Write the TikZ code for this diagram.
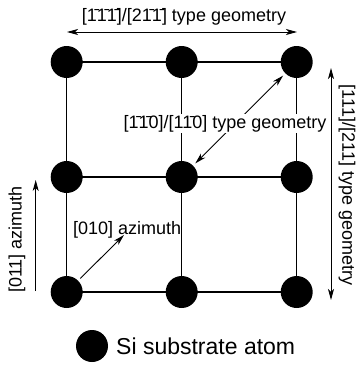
\documentclass[tikz,border=0pt]{standalone}
\usepackage{fontspec}
\setmainfont{Liberation Sans}
\usetikzlibrary{arrows.meta}
\newcommand\bartxt[1]{\={#1}}
\begin{document}
\begin{tikzpicture}[x=1pt,y=-1pt,
  atom/.style={circle,fill=black,minimum size=32pt,inner sep=0pt},
  gridline/.style={line width=1.5pt},
  arr/.style={line width=0.9pt,-{Stealth[length=11pt,width=6pt,inset=3pt]}},
  darr/.style={line width=0.9pt,{Stealth[length=11pt,width=6pt,inset=3pt]}-{Stealth[length=11pt,width=6pt,inset=3pt]}},
  lbl/.style={font=\fontsize{18}{21}\selectfont,inner sep=1pt}]
\useasboundingbox (0,0) rectangle (357,367);
% atoms
\foreach \r/\y in {1/62,2/177,3/292}{
  \foreach \c/\x in {1/66.7,2/181.7,3/296.7}{
    \node[atom] (a\r\c) at (\x,\y) {};
  }
}
% grid lines
\foreach \r in {1,2,3}{
  \draw[gridline] (a\r1.center) -- (a\r2.center) -- (a\r3.center);
  \draw[gridline] (a1\r.center) -- (a2\r.center) -- (a3\r.center);
}
% top arrow
\coordinate (tl) at (67,32);
\coordinate (tr) at (297,32);
\draw[darr] (tl) -- (tr);
\node[lbl,anchor=base] (toplbl) at (184,21) {[\bartxt{1}\bartxt{1}\bartxt{1}]/[2\bartxt{1}\bartxt{1}] type geometry};
% right arrow
\coordinate (rt) at (331,68);
\coordinate (rb) at (331,300);
\draw[darr] (rt) -- (rb);
\node[lbl,rotate=-90] (rightlbl) at (347,185) {[111]/[211] type geometry};
% left arrow
\coordinate (lb) at (35.7,291);
\coordinate (lt) at (35.7,180);
\draw[arr] (lb) -- (lt);
\node[lbl,rotate=90] (leftlbl) at (17,239.5) {[011] azimuth};
% [010] arrow
\coordinate (az) at (124,235);
\draw[arr,shorten <=3pt] (a31) -- (az);
\node[lbl,anchor=base west] (azlbl) at (72,234) {[010] azimuth};
% middle arrow
\draw[darr,shorten <=3pt,shorten >=3pt] (a22) -- (a13);
\node[lbl,anchor=base,fill=white] (midlbl) at (225,128) {[\bartxt{1}\bartxt{1}0]/[1\bartxt{1}0] type geometry};
% legend
\node[atom] (legatom) at (92,346) {};
\node[anchor=west,font=\fontsize{23}{26}\selectfont,inner sep=0pt] (legtxt) at (116,346) {Si substrate atom};
\end{tikzpicture}
\end{document}
